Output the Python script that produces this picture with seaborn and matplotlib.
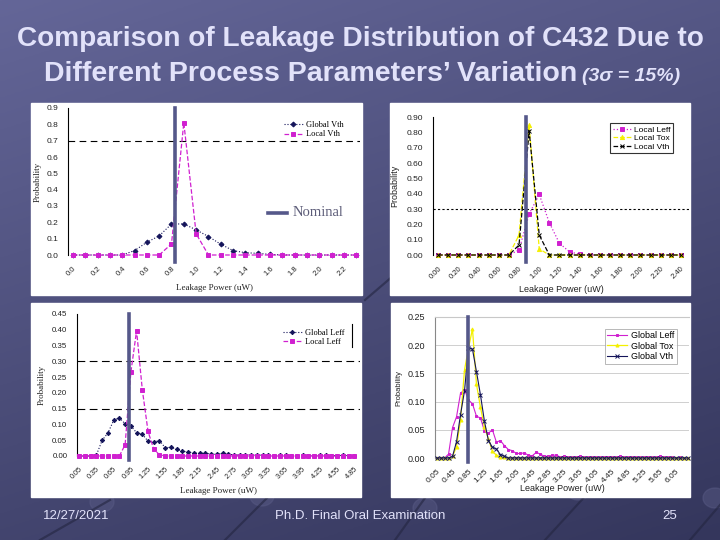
import numpy as np
import matplotlib
matplotlib.use("Agg")
import matplotlib.pyplot as plt
import seaborn as sns
from matplotlib.lines import Line2D
from matplotlib.patches import Rectangle, Ellipse

# -------------------------------
# Data read off the four Excel charts on the slide
# -------------------------------
# top-left: Vth variation
vth_x = [0.0, 0.1, 0.2, 0.3, 0.4, 0.5, 0.6, 0.7, 0.8, 0.9, 1.0, 1.1,
         1.2, 1.3, 1.4, 1.5, 1.6, 1.7, 1.8, 1.9, 2.0, 2.1, 2.2, 2.3]
vth_global = [0, 0, 0, 0, 0, 0.027, 0.078, 0.117, 0.190, 0.190, 0.154, 0.113,
              0.066, 0.027, 0.014, 0.010, 0.004, 0, 0, 0, 0, 0, 0, 0]
vth_local = [0, 0, 0, 0, 0, 0, 0, 0, 0.068, 0.810, 0.130, 0,
             0, 0, 0, 0, 0, 0, 0, 0, 0, 0, 0, 0]

# top-right: local variations
loc_x = [0.0, 0.1, 0.2, 0.3, 0.4, 0.5, 0.6, 0.7, 0.8, 0.9, 1.0, 1.1, 1.2,
         1.3, 1.4, 1.5, 1.6, 1.7, 1.8, 1.9, 2.0, 2.1, 2.2, 2.3, 2.4]
loc_leff = [0, 0, 0, 0, 0, 0, 0, 0, 0.033, 0.267, 0.395, 0.210, 0.076,
            0.020, 0.005, 0, 0, 0, 0, 0, 0, 0, 0, 0, 0]
loc_tox = [0, 0, 0, 0, 0, 0, 0, 0, 0.130, 0.846, 0.040, 0, 0,
           0, 0, 0, 0, 0, 0, 0, 0, 0, 0, 0, 0]
loc_vth = [0, 0, 0, 0, 0, 0, 0, 0, 0.065, 0.810, 0.130, 0, 0,
           0, 0, 0, 0, 0, 0, 0, 0, 0, 0, 0, 0]

# bottom-left: Leff variation
leff_x = [0.05, 0.15, 0.25, 0.35, 0.45, 0.55, 0.65, 0.75, 0.85, 0.95,
          1.05, 1.15, 1.25, 1.35, 1.45, 1.55, 1.65, 1.75, 1.85, 1.95,
          2.05, 2.15, 2.25, 2.35, 2.45, 2.55, 2.65, 2.75, 2.85, 2.95,
          3.05, 3.15, 3.25, 3.35, 3.45, 3.55, 3.65, 3.75, 3.85, 3.95,
          4.05, 4.15, 4.25, 4.35, 4.45, 4.55, 4.65, 4.75, 4.85]
leff_global = [0, 0, 0, 0.004, 0.050, 0.073, 0.113, 0.121, 0.102, 0.095,
               0.074, 0.069, 0.047, 0.044, 0.049, 0.026, 0.028, 0.021, 0.015, 0.013,
               0.009, 0.008, 0.009, 0.006, 0.005, 0.009, 0.006, 0.003, 0.003, 0.004,
               0.004, 0.002, 0.003, 0.002, 0.001, 0.002, 0.002, 0.001, 0.001, 0.002,
               0.001, 0.001, 0.002, 0.002, 0.001, 0.001, 0.002, 0.001, 0.001]
leff_local = [0, 0, 0, 0, 0, 0, 0, 0, 0.036, 0.265,
              0.397, 0.210, 0.078, 0.021, 0.004, 0, 0, 0, 0, 0,
              0, 0, 0, 0, 0, 0, 0, 0, 0, 0,
              0, 0, 0, 0, 0, 0, 0, 0, 0, 0,
              0, 0, 0, 0, 0, 0, 0, 0, 0]

# bottom-right: global variations
glob_x = [0.05, 0.15, 0.25, 0.35, 0.45, 0.55, 0.65, 0.75, 0.85, 0.95,
          1.05, 1.15, 1.25, 1.35, 1.45, 1.55, 1.65, 1.75, 1.85, 1.95,
          2.05, 2.15, 2.25, 2.35, 2.45, 2.55, 2.65, 2.75, 2.85, 2.95,
          3.05, 3.15, 3.25, 3.35, 3.45, 3.55, 3.65, 3.75, 3.85, 3.95,
          4.05, 4.15, 4.25, 4.35, 4.45, 4.55, 4.65, 4.75, 4.85, 4.95,
          5.05, 5.15, 5.25, 5.35, 5.45, 5.55, 5.65, 5.75, 5.85, 5.95,
          6.05, 6.15, 6.25, 6.35]
glob_leff = [0, 0, 0, 0.007, 0.054, 0.073, 0.115, 0.121, 0.103, 0.096,
             0.074, 0.071, 0.048, 0.044, 0.050, 0.028, 0.031, 0.022, 0.015, 0.013,
             0.008, 0.008, 0.009, 0.005, 0.004, 0.010, 0.007, 0.003, 0.003, 0.005,
             0.005, 0.002, 0.003, 0.002, 0.001, 0.002, 0.003, 0.001, 0.001, 0.002,
             0.001, 0.001, 0.002, 0.002, 0.002, 0.001, 0.003, 0.001, 0.001, 0.002,
             0.001, 0.001, 0.001, 0.002, 0.001, 0.001, 0.003, 0.001, 0.001, 0.001,
             0, 0.001, 0, 0]
glob_tox = [0, 0, 0, 0, 0.003, 0.020, 0.068, 0.156, 0.195, 0.229,
            0.131, 0.090, 0.055, 0.034, 0.012, 0.005, 0.002, 0.001] + [0.0] * 46
glob_vth = [0, 0, 0, 0, 0.003, 0.029, 0.077, 0.119, 0.195, 0.193,
            0.153, 0.112, 0.065, 0.031, 0.019, 0.016, 0.006, 0.003] + [0.0] * 46

# tick labels
p1_xlabels = ["0.0", "0.2", "0.4", "0.6", "0.8", "1.0", "1.2", "1.4", "1.6", "1.8", "2.0", "2.2"]
p1_ylabels = ["0.0", "0.1", "0.2", "0.3", "0.4", "0.5", "0.6", "0.7", "0.8", "0.9"]
p2_xlabels = ["0.00", "0.20", "0.40", "0.60", "0.80", "1.00", "1.20", "1.40",
              "1.60", "1.80", "2.00", "2.20", "2.40"]
p2_ylabels = ["0.00", "0.10", "0.20", "0.30", "0.40", "0.50", "0.60", "0.70", "0.80", "0.90"]
p3_xlabels = ["0.05", "0.35", "0.65", "0.95", "1.25", "1.55", "1.85", "2.15", "2.45",
              "2.75", "3.05", "3.35", "3.65", "3.95", "4.25", "4.55", "4.85"]
p3_ylabels = ["0.00", "0.05", "0.10", "0.15", "0.20", "0.25", "0.30", "0.35", "0.40", "0.45"]
p4_xlabels = ["0.05", "0.45", "0.85", "1.25", "1.65", "2.05", "2.45", "2.85",
              "3.25", "3.65", "4.05", "4.45", "4.85", "5.25", "5.65", "6.05"]
p4_ylabels = ["0.00", "0.05", "0.10", "0.15", "0.20", "0.25"]

nominal_x = [0.83, 0.87, 0.91, 0.83]

# colours
MAG = "#d020d0"
NAVY = "#14145a"
YEL = "#f4f000"
NOM = "#55588a"
TXT = "#e2e2fa"

SERIF = ["Liberation Serif", "DejaVu Serif"]
SANS = ["Liberation Sans", "DejaVu Sans"]

W, H = 720, 540


def box(l, t, r, b):
    return [l / W, 1 - b / H, (r - l) / W, (b - t) / H]


def series(ax, x, y, color, marker, ls, label, ms=3, lw=0.8):
    sns.lineplot(x=x, y=y, ax=ax, color=color, marker=marker, markersize=ms,
                 linestyle=ls, linewidth=lw, label=label, errorbar=None, legend=False,
                 markeredgecolor=color, markeredgewidth=0.7, clip_on=False, zorder=3)


def style_axes(ax, xlabels, ylabels, xlim, ylim, font, lx, ly, yx, tick_fs=5.5):
    ax.set_facecolor("white")
    ax.set_xlim(*xlim)
    ax.set_ylim(*ylim)
    ax.set_xticks([float(s) for s in xlabels])
    ax.set_xticklabels(xlabels, rotation=45, ha="right", rotation_mode="anchor",
                       fontsize=tick_fs, family=SANS, color="#222222")
    ax.set_yticks([float(s) for s in ylabels])
    ax.set_yticklabels(ylabels, fontsize=tick_fs + 0.5, family=SANS, color="#222222")
    ax.tick_params(length=0, pad=7)
    for s in ["top", "right", "bottom"]:
        ax.spines[s].set_visible(False)
    ax.spines["left"].set_color("black")
    ax.spines["left"].set_linewidth(0.8)
    ax.set_xlabel("Leakage Power (uW)", fontsize=6.5, family=font, color="#222222")
    ax.set_ylabel("Probability", fontsize=6.5, family=font, color="#222222")
    ax.xaxis.set_label_coords(lx, ly)
    ax.yaxis.set_label_coords(yx, 0.5)


def nominal(ax, x, ymin):
    ax.axvline(x, ymin=ymin, ymax=1.0, color=NOM, lw=2.6, clip_on=False, zorder=6)


fig = plt.figure(figsize=(7.2, 5.4), dpi=100)

# slide background
bg = fig.add_axes([0, 0, 1, 1], zorder=-10)
yy, xx = np.mgrid[0:1:200j, 0:1:200j]
t = 0.7 * yy + 0.3 * xx
c_top = np.array([0x64, 0x66, 0x98]) / 255
c_bot = np.array([0x34, 0x36, 0x5c]) / 255
bg.imshow(c_top + (c_bot - c_top) * t[..., None], extent=[0, 1, 0, 1],
          origin="upper", aspect="auto")
for (x0, y0, x1, y1) in [(40, 540, 110, 500), (225, 540, 275, 490), (395, 540, 445, 470),
                         (545, 540, 600, 480), (690, 540, 720, 505), (365, 300, 400, 270)]:
    bg.plot([x0 / W, x1 / W], [1 - y0 / H, 1 - y1 / H], color="#232540", lw=1.6, alpha=0.6)
for (cx, cy) in [(102, 502), (262, 496), (425, 508), (578, 490), (715, 498)]:
    bg.add_patch(Ellipse((cx / W, 1 - cy / H), 24 / W, 20 / H, color="#5a5c86", alpha=0.45))
bg.set_xlim(0, 1)
bg.set_ylim(0, 1)
bg.axis("off")

# white panel frames
for (l, t_, r, b) in [(31, 103, 362, 295), (390, 103, 690, 295),
                      (31, 303, 361, 497), (391, 303, 690, 497)]:
    fig.add_artist(Rectangle((l / W, 1 - b / H), (r - l) / W, (b - t_) / H,
                             transform=fig.transFigure, color="white", zorder=-5))

# -------------------------------
# 1. Top-left: Global vs Local Vth
# -------------------------------
ax1 = fig.add_axes(box(68, 108, 360, 255))
ax1.axhline(0.7, color="black", lw=0.8, ls=(0, (6, 4)), zorder=1)
series(ax1, vth_x, vth_global, NAVY, "D", ":", "Global Vth", ms=2.5, lw=0.8)
series(ax1, vth_x, vth_local, MAG, "s", "--", "Local Vth", ms=3, lw=0.9)
style_axes(ax1, p1_xlabels, p1_ylabels, (-0.04, 2.33), (0, 0.9), SERIF, 0.5, -0.2, -0.09)
nominal(ax1, nominal_x[0], -0.048)
ax1.legend(loc="upper left", bbox_to_anchor=(280 / W, 1 - 117 / H), bbox_transform=fig.transFigure,
           frameon=False, prop={"family": SERIF, "size": 6}, handlelength=2.2,
           labelspacing=0.15, borderpad=0, handletextpad=0.4)
fig.add_artist(Line2D([268 / W, 287 / W], [1 - 213 / H, 1 - 213 / H],
                      transform=fig.transFigure, color=NOM, lw=2.6))
fig.text(293 / W, 1 - 213 / H, "Nominal", family=SERIF, fontsize=10.5,
         color="#5c5c78", va="center", ha="left")

# -------------------------------
# 2. Top-right: local Leff / Tox / Vth
# -------------------------------
ax2 = fig.add_axes(box(433, 117, 689, 255))
ax2.axhline(0.3, color="black", lw=0.8, ls=(0, (2, 2)), zorder=1)
series(ax2, loc_x, loc_leff, MAG, "s", ":", "Local Leff", ms=3, lw=0.9)
series(ax2, loc_x, loc_tox, YEL, "^", "--", "Local Tox", ms=3, lw=0.9)
series(ax2, loc_x, loc_vth, "black", "x", "--", "Local Vth", ms=3, lw=0.9)
style_axes(ax2, p2_xlabels, p2_ylabels, (-0.05, 2.48), (0, 0.9), SANS, 0.5, -0.22, -0.13)
nominal(ax2, nominal_x[1], -0.05)
leg2 = ax2.legend(loc="upper left", bbox_to_anchor=(606 / W, 1 - 119 / H),
                  bbox_transform=fig.transFigure, frameon=True, fancybox=False,
                  prop={"family": SANS, "size": 6}, handlelength=2.2,
                  labelspacing=0.1, borderpad=0.3, handletextpad=0.4)
leg2.get_frame().set_edgecolor("black")
leg2.get_frame().set_linewidth(0.8)

# -------------------------------
# 3. Bottom-left: Global vs Local Leff
# -------------------------------
ax3 = fig.add_axes(box(77, 314, 360, 456))
for yv in [0.30, 0.15]:
    ax3.axhline(yv, color="black", lw=0.8, ls=(0, (7, 4)), zorder=1)
series(ax3, leff_x, leff_global, NAVY, "D", ":", "Global Leff", ms=2.2, lw=0.8)
series(ax3, leff_x, leff_local, MAG, "s", "--", "Local Leff", ms=2.5, lw=0.9)
style_axes(ax3, p3_xlabels, p3_ylabels, (0.01, 4.95), (0, 0.45), SERIF, 0.5, -0.215, -0.11, tick_fs=5.2)
nominal(ax3, nominal_x[2], -0.03)
ax3.legend(loc="upper left", bbox_to_anchor=(279 / W, 1 - 325 / H), bbox_transform=fig.transFigure,
           frameon=False, prop={"family": SERIF, "size": 6}, handlelength=2.2,
           labelspacing=0.15, borderpad=0, handletextpad=0.4)
fig.add_artist(Line2D([352 / W, 352 / W], [1 - 324 / H, 1 - 347 / H],
                      transform=fig.transFigure, color="black", lw=0.8))

# -------------------------------
# 4. Bottom-right: global Leff / Tox / Vth
# -------------------------------
ax4 = fig.add_axes(box(435, 317, 689, 458))
ax4.grid(axis="y", color="#c8c8c8", lw=0.6)
ax4.set_axisbelow(True)
series(ax4, glob_x, glob_leff, MAG, "s", "-", "Global Leff", ms=2, lw=0.8)
series(ax4, glob_x, glob_tox, YEL, "^", "-", "Global Tox", ms=2.2, lw=0.9)
series(ax4, glob_x, glob_vth, NAVY, "x", "-", "Global Vth", ms=2.5, lw=0.8)
style_axes(ax4, p4_xlabels, p4_ylabels, (0.01, 6.38), (0, 0.25), SANS, 0.5, -0.185, -0.13, tick_fs=6)
ax4.spines["left"].set_color("#888888")
ax4.spines["top"].set_visible(True)
ax4.spines["top"].set_color("#c8c8c8")
ax4.set_ylabel("Probability", fontsize=5.5, family=SANS, color="#222222")
nominal(ax4, nominal_x[3], -0.03)
leg4 = ax4.legend(loc="upper left", bbox_to_anchor=(600 / W, 1 - 324 / H),
                  bbox_transform=fig.transFigure, frameon=True, fancybox=False,
                  prop={"family": SANS, "size": 6.5}, handlelength=2.2,
                  labelspacing=0.15, borderpad=0.3, handletextpad=0.4)
leg4.get_frame().set_edgecolor("#999999")
leg4.get_frame().set_linewidth(0.6)

# -------------------------------
# Slide title and footer
# -------------------------------
fig.text(0.5, 1 - 46 / H, "Comparison of Leakage Distribution of C432 Due to",
         ha="center", va="baseline", fontsize=20.2, fontweight="bold", family=SANS, color=TXT)
fig.text(577 / W, 1 - 81 / H, "Different Process Parameters\u2019 Variation",
         ha="right", va="baseline", fontsize=20.5, fontweight="bold", family=SANS, color=TXT)
fig.text(582 / W, 1 - 81 / H, "(3\u03c3 = 15%)", ha="left", va="baseline",
         fontsize=14, fontweight="bold", style="italic", family=SANS, color=TXT)

NARROW = ["Liberation Sans Narrow", "Liberation Sans", "DejaVu Sans"]
fig.text(43 / W, 1 - 516 / H, "12/27/2021", ha="left", va="center", fontsize=9.5, family=NARROW, color=TXT)
fig.text(360 / W, 1 - 516 / H, "Ph.D. Final Oral Examination", ha="center", va="center",
         fontsize=9.5, family=NARROW, color=TXT)
fig.text(670 / W, 1 - 516 / H, "25", ha="center", va="center", fontsize=9.5, family=NARROW, color=TXT)

fig.savefig("out.png", dpi=100)
